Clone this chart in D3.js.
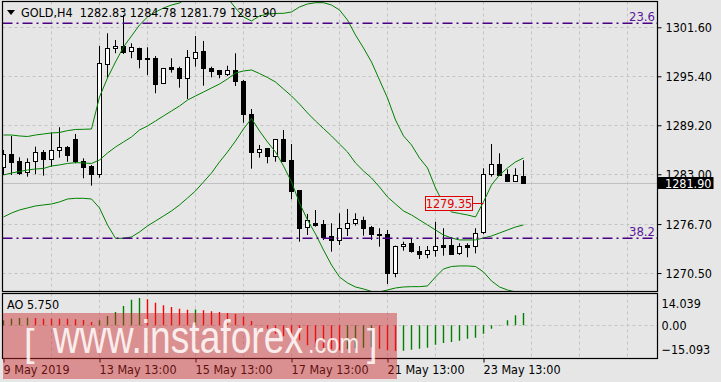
<!DOCTYPE html>
<html>
<head>
<meta charset="utf-8">
<script src="https://d3js.org/d3.v7.min.js"></script>
<style>
  body,
  html {
    margin: 0;
    padding: 0;
    background: #e6e6e6;
  }
  svg {
    display: block;
  }
  .lbl {
    font-family: "DejaVu Sans Condensed", "DejaVu Sans", sans-serif;
    font-size: 12.5px;
  }
</style>
</head>
<body>
<svg id="chart" width="721" height="382"></svg>
<script>
// GOLD H4 candles
const opens = [1283.89, 1285.57, 1284.68, 1283.25, 1284.59, 1285.82, 1284.90, 1286.04, 1286.42, 1287.43,
  1284.68, 1284.05, 1283.13, 1296.92, 1298.94, 1299.23, 1298.51, 1299.02, 1297.68, 1297.75,
  1294.51, 1296.58, 1296.41, 1295.10, 1297.80, 1298.60, 1296.45, 1296.16, 1295.60, 1296.16,
  1294.81, 1290.63, 1285.86, 1286.33, 1285.35, 1287.47, 1284.81, 1281.01, 1276.29, 1276.84,
  1276.71, 1275.19, 1274.65, 1276.12, 1276.75, 1277.22, 1276.33, 1275.47, 1275.45, 1270.60,
  1273.97, 1274.27, 1273.30, 1272.88, 1273.38, 1274.05, 1274.05, 1273.00, 1274.05, 1274.02,
  1275.66, 1283.00, 1284.27, 1283.04, 1282.19, 1282.83];
const highs = [1286.07, 1287.85, 1285.15, 1285.02, 1286.49, 1286.07, 1288.31, 1288.95, 1286.58, 1288.10,
  1285.02, 1284.18, 1299.23, 1300.84, 1299.99, 1303.16, 1299.58, 1299.02, 1299.07, 1297.97,
  1296.41, 1297.68, 1296.61, 1298.73, 1300.50, 1299.87, 1296.61, 1296.20, 1296.74, 1298.31,
  1294.93, 1291.26, 1286.71, 1286.33, 1287.47, 1288.61, 1286.83, 1281.01, 1277.98, 1278.48,
  1277.22, 1276.80, 1278.07, 1278.61, 1278.07, 1277.64, 1276.46, 1276.17, 1275.95, 1273.97,
  1274.47, 1274.90, 1273.93, 1273.93, 1277.00, 1276.17, 1275.03, 1274.27, 1274.27, 1276.17,
  1283.76, 1286.83, 1285.66, 1283.63, 1283.76, 1284.78];
const lows = [1282.91, 1282.91, 1282.91, 1282.70, 1283.00, 1282.82, 1283.96, 1285.10, 1284.59, 1284.39,
  1282.49, 1281.56, 1282.57, 1295.22, 1298.31, 1298.22, 1297.68, 1296.41, 1295.56, 1293.25,
  1294.51, 1295.86, 1293.96, 1292.53, 1296.61, 1294.21, 1295.27, 1295.15, 1295.44, 1294.17,
  1289.53, 1283.71, 1285.10, 1284.39, 1284.59, 1284.59, 1279.84, 1274.47, 1275.32, 1276.37,
  1274.69, 1273.21, 1274.05, 1275.19, 1276.50, 1275.23, 1274.69, 1273.84, 1269.12, 1269.97,
  1273.33, 1273.08, 1272.28, 1272.37, 1272.57, 1272.70, 1272.79, 1272.79, 1272.50, 1273.00,
  1275.41, 1282.70, 1282.78, 1282.10, 1282.03, 1281.79];
const closes = [1285.57, 1284.59, 1283.13, 1284.52, 1285.78, 1284.90, 1286.04, 1286.42, 1285.35, 1284.59,
  1283.96, 1283.00, 1297.12, 1298.94, 1299.23, 1298.44, 1299.07, 1297.59, 1297.60, 1294.46,
  1296.41, 1296.32, 1295.10, 1297.80, 1298.51, 1296.41, 1296.11, 1295.60, 1296.16, 1294.72,
  1290.69, 1285.86, 1286.20, 1285.32, 1287.47, 1284.68, 1280.92, 1276.24, 1277.22, 1276.55,
  1275.10, 1274.65, 1276.17, 1276.80, 1277.31, 1276.24, 1275.41, 1275.41, 1270.47, 1273.97,
  1274.22, 1273.21, 1272.88, 1273.42, 1273.89, 1273.84, 1272.88, 1273.89, 1273.84, 1275.61,
  1283.00, 1284.27, 1282.91, 1282.19, 1282.91, 1281.90];

// Bollinger bands
const bbUpper = [1287.97, 1287.97, 1287.85, 1287.78, 1287.97, 1288.10, 1288.23, 1288.29, 1288.52, 1288.67,
  1288.69, 1288.73, 1292.78, 1295.19, 1297.21, 1299.11, 1300.50, 1301.89, 1302.90, 1303.54,
  1304.04, 1304.42, 1304.67, 1305.31, 1305.81, 1306.19, 1306.32, 1306.07, 1305.31, 1304.04,
  1302.90, 1302.40, 1303.03, 1303.28, 1303.35, 1303.37, 1303.54, 1304.17, 1304.55, 1304.71,
  1304.71, 1304.42, 1303.79, 1302.52, 1300.62, 1298.98, 1297.21, 1294.93, 1292.65, 1289.87,
  1287.85, 1286.71, 1285.06, 1283.80, 1281.27, 1279.24, 1278.23, 1278.04, 1277.85, 1277.60,
  1279.50, 1281.65, 1282.91, 1283.80, 1284.56, 1285.06];
const bbMiddle = [1282.91, 1283.16, 1283.35, 1283.54, 1283.67, 1283.73, 1284.05, 1284.18, 1284.37, 1284.47,
  1284.43, 1284.37, 1284.81, 1285.69, 1286.45, 1287.09, 1287.72, 1288.61, 1289.11, 1289.74,
  1290.38, 1291.01, 1291.64, 1292.39, 1292.91, 1293.41, 1293.92, 1294.42, 1295.06, 1295.82,
  1296.07, 1296.20, 1295.75, 1295.25, 1294.68, 1293.79, 1292.91, 1291.89, 1290.76, 1289.74,
  1288.79, 1287.85, 1286.83, 1285.82, 1284.43, 1283.42, 1282.53, 1281.39, 1280.13, 1279.24,
  1278.36, 1277.85, 1277.22, 1276.59, 1275.95, 1275.32, 1274.94, 1274.69, 1274.69, 1274.69,
  1274.94, 1275.19, 1275.57, 1275.95, 1276.33, 1276.59];
const bbLower = [1277.60, 1278.10, 1278.48, 1278.74, 1278.99, 1279.12, 1279.24, 1279.50, 1279.87, 1279.96,
  1279.96, 1279.87, 1278.74, 1276.59, 1274.90, 1274.90, 1275.07, 1275.70, 1276.46, 1277.09,
  1277.72, 1278.36, 1279.12, 1280.00, 1280.89, 1282.03, 1283.16, 1284.56, 1285.82, 1287.21,
  1288.73, 1290.06, 1288.48, 1287.09, 1285.82, 1284.05, 1282.03, 1279.37, 1277.22, 1275.45,
  1273.42, 1271.52, 1270.00, 1269.25, 1268.74, 1268.49, 1268.17, 1268.11, 1268.36, 1268.61,
  1268.74, 1268.78, 1268.78, 1268.87, 1270.00, 1271.02, 1271.33, 1271.40, 1271.40, 1271.33,
  1270.64, 1269.50, 1268.74, 1268.36, 1268.11, 1267.85];

// Awesome Oscillator
const aoValues = [2.36, 3.10, 3.42, 3.51, 3.38, 3.10, 3.08, 3.05, 3.02, 2.82,
  2.50, 1.57, 2.36, 4.35, 6.20, 8.97, 11.88, 12.67, 12.07, 10.50,
  9.29, 8.51, 7.72, 7.26, 7.35, 6.98, 6.52, 6.20, 5.73, 5.27,
  4.12, 2.03, -0.09, -1.53, -3.84, -5.04, -6.15, -6.89, -9.20, -9.99,
  -10.45, -11.05, -11.51, -10.90, -10.60, -10.30, -10.10, -10.80, -11.50, -11.84,
  -11.70, -11.24, -10.77, -10.31, -8.92, -8.14, -7.68, -7.07, -6.15, -5.69,
  -3.84, -1.53, -0.23, 2.36, 4.67, 5.75];

const priceTicks = [1301.6, 1295.4, 1289.2, 1283.0, 1276.7, 1270.5];
const aoTicks = [14.039, 0, -15.093];
const timeTickIdx = [0, 12, 24, 36, 48, 60];
const timeTickText = ["9 May 2019", "13 May 13:00", "15 May 13:00", "17 May 13:00", "21 May 13:00", "23 May 13:00"];
const fibLevels = [1302.11, 1274.90];
const fibNames = ["23.6", "38.2"];
const lastPrice = 1281.90;
const markPrice = 1279.35;
const markIdx = 60;

const svg = d3.select("#chart");
const left = 2.5, right = 657.5;
const mainTop = 1.5, mainBottom = 291.5;
const aoTop = 293.5, aoBottom = 358.5;

const x = d3.scaleLinear().domain([0, 1]).range([3.5, 11.5]);
const y = d3.scaleLinear().domain([1268.23, 1304.8]).range([291, 2]);
const yAo = d3.scaleLinear().domain([-15.093, 14.039]).range([358, 295]);

const defs = svg.append("defs");
defs.append("clipPath").attr("id", "clipMain")
  .append("rect").attr("x", left).attr("y", mainTop).attr("width", right - left).attr("height", mainBottom - mainTop);
defs.append("clipPath").attr("id", "clipAo")
  .append("rect").attr("x", left).attr("y", aoTop).attr("width", right - left).attr("height", aoBottom - aoTop);

const gridColor = "#c4c4c4";

// grid main
const gMain = svg.append("g").attr("clip-path", "url(#clipMain)");
const vGrid = d3.range(6, 80, 6);
gMain.selectAll(".vg").data(vGrid).enter().append("line")
  .attr("x1", (d) => x(d)).attr("x2", (d) => x(d))
  .attr("y1", mainTop).attr("y2", mainBottom)
  .attr("stroke", gridColor).attr("stroke-dasharray", "3,3");
gMain.selectAll(".hg").data(priceTicks).enter().append("line")
  .attr("x1", left).attr("x2", right)
  .attr("y1", (d) => Math.round(y(d)) + 0.5).attr("y2", (d) => Math.round(y(d)) + 0.5)
  .attr("stroke", gridColor).attr("stroke-dasharray", "3,3");

// last price line
gMain.append("line")
  .attr("x1", left).attr("x2", right)
  .attr("y1", Math.round(y(lastPrice)) + 0.5).attr("y2", Math.round(y(lastPrice)) + 0.5)
  .attr("stroke", "#c0c0c0");

// candles
const candles = gMain.selectAll(".candle").data(opens).enter().append("g");
candles.append("line")
  .attr("x1", (d, i) => x(i)).attr("x2", (d, i) => x(i))
  .attr("y1", (d, i) => y(highs[i])).attr("y2", (d, i) => y(lows[i]))
  .attr("stroke", "#000");
candles.append("rect")
  .attr("x", (d, i) => x(i) - 2)
  .attr("width", 4)
  .attr("y", (d, i) => Math.round(y(Math.max(opens[i], closes[i]))) + 0.5)
  .attr("height", (d, i) => Math.max(1, Math.round(Math.abs(y(opens[i]) - y(closes[i])))))
  .attr("fill", (d, i) => (closes[i] >= opens[i] ? "#fff" : "#000"))
  .attr("stroke", "#000");

// bollinger bands
const bandLine = d3.line().x((d, i) => x(i)).y((d) => y(d));
[bbUpper, bbMiddle, bbLower].forEach((band) => {
  gMain.append("path").datum(band)
    .attr("d", bandLine)
    .attr("fill", "none")
    .attr("stroke", "#008000")
    .attr("stroke-width", 1);
});

// fibo levels
gMain.selectAll(".fib").data(fibLevels).enter().append("line")
  .attr("x1", left).attr("x2", right)
  .attr("y1", (d) => y(d)).attr("y2", (d) => y(d))
  .attr("stroke", "#4b0082").attr("stroke-width", 1.5)
  .attr("stroke-dasharray", "10,4,2,4");
svg.selectAll(".fibText").data(fibLevels).enter().append("text")
  .attr("class", "lbl")
  .attr("x", 655).attr("y", (d) => y(d) - 2.5)
  .attr("text-anchor", "end")
  .attr("fill", "#5a1a9a")
  .style("font-size", "13px")
  .text((d, i) => fibNames[i]);

// price mark label
svg.append("line")
  .attr("x1", 472.5).attr("x2", x(markIdx))
  .attr("y1", Math.round(y(markPrice)) + 0.5).attr("y2", Math.round(y(markPrice)) + 0.5)
  .attr("stroke", "#e00000");
svg.append("rect")
  .attr("x", 425.5).attr("y", Math.round(y(markPrice)) - 6.5)
  .attr("width", 47).attr("height", 14)
  .attr("fill", "#e6e6e6").attr("stroke", "#e00000");
svg.append("text").attr("class", "lbl")
  .attr("x", 449).attr("y", Math.round(y(markPrice)) + 4.5)
  .attr("text-anchor", "middle").attr("fill", "#e00000")
  .text(markPrice.toFixed(2));

// AO panel
const gAo = svg.append("g").attr("clip-path", "url(#clipAo)");
gAo.selectAll(".vg").data(vGrid).enter().append("line")
  .attr("x1", (d) => x(d)).attr("x2", (d) => x(d))
  .attr("y1", aoTop).attr("y2", aoBottom)
  .attr("stroke", gridColor).attr("stroke-dasharray", "3,3");
gAo.append("line")
  .attr("x1", left).attr("x2", right)
  .attr("y1", Math.round(yAo(0)) + 0.5).attr("y2", Math.round(yAo(0)) + 0.5)
  .attr("stroke", gridColor).attr("stroke-dasharray", "3,3");
gAo.selectAll(".bar").data(aoValues).enter().append("line")
  .attr("x1", (d, i) => x(i)).attr("x2", (d, i) => x(i))
  .attr("y1", yAo(0)).attr("y2", (d) => yAo(d))
  .attr("stroke", (d, i) => (i === 0 || d > aoValues[i - 1] ? "#008000" : "#ff0000"))
  .attr("stroke-width", 1.4);

// frames
svg.append("rect").attr("x", left).attr("y", mainTop)
  .attr("width", right - left).attr("height", mainBottom - mainTop)
  .attr("fill", "none").attr("stroke", "#000").attr("stroke-width", 1.2);
svg.append("rect").attr("x", left).attr("y", aoTop)
  .attr("width", right - left).attr("height", aoBottom - aoTop)
  .attr("fill", "none").attr("stroke", "#000").attr("stroke-width", 1.2);

// price axis
const priceAxis = svg.append("g").attr("transform", `translate(${right},0)`)
  .call(d3.axisRight(y).tickValues(priceTicks).tickSize(4).tickPadding(4).tickFormat(d3.format(".2f")));
priceAxis.select(".domain").remove();
priceAxis.selectAll("text").attr("class", "lbl").attr("fill", "#000");
priceAxis.selectAll("line").attr("stroke", "#000");

// last price box
svg.append("rect").attr("x", right).attr("y", Math.round(y(lastPrice)) - 6)
  .attr("width", 56).attr("height", 12).attr("fill", "#000");
svg.append("text").attr("class", "lbl").attr("x", 665).attr("y", Math.round(y(lastPrice)) + 4.5)
  .attr("fill", "#fff").text(lastPrice.toFixed(2));

// AO axis
const aoAxis = svg.append("g").attr("transform", `translate(${right},0)`)
  .call(d3.axisRight(yAo).tickValues(aoTicks).tickSize(0).tickPadding(4)
    .tickFormat((d) => (d === 0 ? "0.00" : d3.format(".3f")(d))));
aoAxis.select(".domain").remove();
aoAxis.selectAll("text").attr("class", "lbl").attr("fill", "#000")
  .attr("dy", (d) => (d > 0 ? "1.0em" : d < 0 ? "-0.35em" : "0.32em"));

// time axis
const timeAxis = svg.append("g").attr("transform", `translate(0,${aoBottom})`)
  .call(d3.axisBottom(x).tickValues(timeTickIdx).tickSize(4).tickPadding(3)
    .tickFormat((d, i) => timeTickText[i]));
timeAxis.select(".domain").remove();
timeAxis.selectAll("line").attr("stroke", "#000");
timeAxis.selectAll("text").attr("class", "lbl").attr("fill", "#000")
  .attr("text-anchor", "start").attr("x", -0.5);

// header
svg.append("path").attr("d", "M7,10 L15,10 L11,15 Z").attr("fill", "#000");
svg.append("text").attr("class", "lbl").attr("x", 21).attr("y", 17)
  .attr("xml:space", "preserve")
  .text(`GOLD,H4  ${opens[65].toFixed(2)} ${highs[65].toFixed(2)} ${lows[65].toFixed(2)} ${closes[65].toFixed(2)}`);
svg.append("text").attr("class", "lbl").attr("x", 7).attr("y", 309)
  .text(`AO ${aoValues[65].toFixed(3)}`);

// watermark
const wm = svg.append("g");
wm.append("rect").attr("x", 3).attr("y", 313).attr("width", 394).attr("height", 66)
  .attr("fill", "rgba(205,40,40,0.45)");
const wmFont = "'Liberation Sans Narrow', 'Liberation Sans', sans-serif";
wm.append("text").attr("x", 24).attr("y", 356).attr("font-family", wmFont).attr("font-size", 38)
  .attr("fill", "rgba(255,255,255,0.85)").text("[");
wm.append("text").attr("x", 53).attr("y", 353).attr("font-family", wmFont).attr("font-size", 46)
  .attr("textLength", 250).attr("lengthAdjust", "spacingAndGlyphs")
  .attr("fill", "rgba(255,255,255,0.85)").text("www.instaforex");
wm.append("text").attr("x", 308).attr("y", 353).attr("font-family", wmFont).attr("font-size", 28)
  .attr("textLength", 51).attr("lengthAdjust", "spacingAndGlyphs")
  .attr("fill", "rgba(255,255,255,0.85)").text(".com");
wm.append("text").attr("x", 367).attr("y", 356).attr("font-family", wmFont).attr("font-size", 38)
  .attr("fill", "rgba(255,255,255,0.85)").text("]");
</script>
</body>
</html>
